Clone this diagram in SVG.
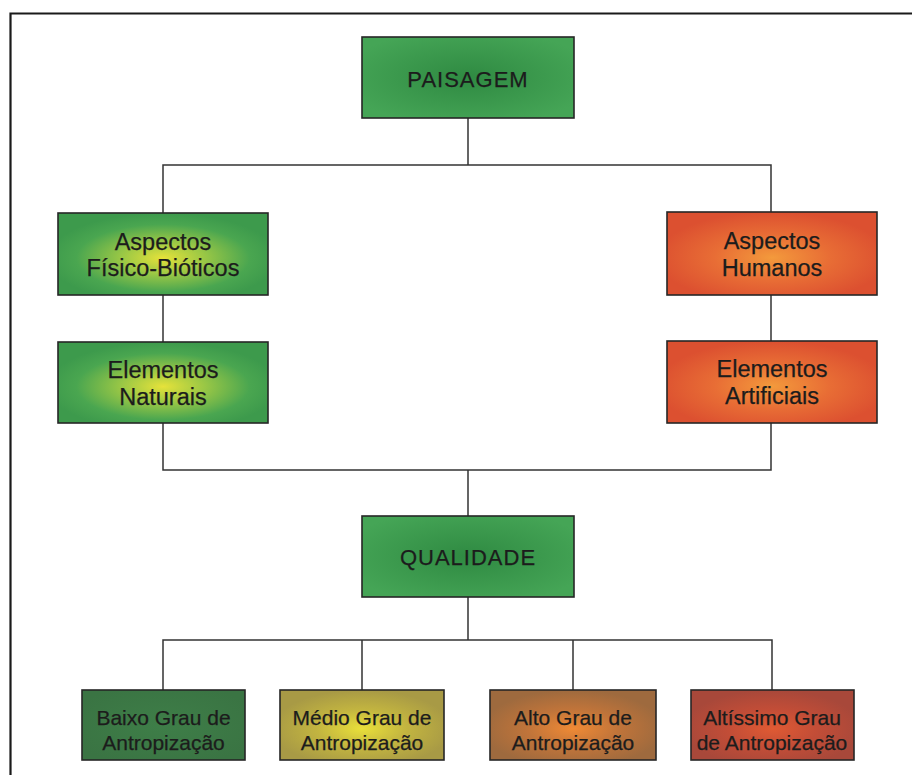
<svg xmlns="http://www.w3.org/2000/svg" width="912" height="775" viewBox="0 0 912 775">
  <style>
    .box { stroke: #262626; stroke-width: 1.6; }
    .lbl { font-family: "Liberation Sans", Arial, sans-serif; font-size: 21px; fill: #1c1c1c; stroke: #1c1c1c; stroke-width: 0.25; text-anchor: middle; }
    .mid { font-size: 23.5px; }
    .big { font-size: 22px; letter-spacing: 1px; }
    .wire { fill: none; stroke: #333; stroke-width: 1.5; }
    .frame { fill: none; stroke: #1a1a1a; stroke-width: 2.2; }
  </style>
  <defs>
    <radialGradient id="gTop" cx="50%" cy="50%" r="60%">
      <stop offset="0" stop-color="#2f8a42"/>
      <stop offset="1" stop-color="#45a556"/>
    </radialGradient>
    <radialGradient id="gNat" cx="50%" cy="55%" r="55%">
      <stop offset="0" stop-color="#e6e23a"/>
      <stop offset="0.35" stop-color="#9cc845"/>
      <stop offset="0.75" stop-color="#4aa650"/>
      <stop offset="1" stop-color="#3d9a4c"/>
    </radialGradient>
    <radialGradient id="gHum" cx="50%" cy="55%" r="55%">
      <stop offset="0" stop-color="#f39a3c"/>
      <stop offset="0.5" stop-color="#e86d35"/>
      <stop offset="1" stop-color="#dc5030"/>
    </radialGradient>
    <radialGradient id="gLow" cx="50%" cy="50%" r="60%">
      <stop offset="0" stop-color="#3e7e48"/>
      <stop offset="1" stop-color="#3a7443"/>
    </radialGradient>
    <radialGradient id="gMid" cx="50%" cy="55%" r="55%">
      <stop offset="0" stop-color="#e9e03a"/>
      <stop offset="0.5" stop-color="#c2b440"/>
      <stop offset="1" stop-color="#a89a45"/>
    </radialGradient>
    <radialGradient id="gHigh" cx="50%" cy="55%" r="55%">
      <stop offset="0" stop-color="#ef8a35"/>
      <stop offset="0.5" stop-color="#c0743a"/>
      <stop offset="1" stop-color="#9e6a3e"/>
    </radialGradient>
    <radialGradient id="gMax" cx="50%" cy="55%" r="55%">
      <stop offset="0" stop-color="#e05a33"/>
      <stop offset="0.5" stop-color="#c24d37"/>
      <stop offset="1" stop-color="#a8483a"/>
    </radialGradient>
  </defs>

  <rect width="912" height="775" fill="#ffffff"/>

  <!-- outer frame -->
  <path class="frame" d="M10.5 775 V13.5 H912"/>

  <!-- connectors -->
  <g id="connectors">
    <path class="wire" d="M468 118 V165 M163 213 V165 H771 V212"/>
    <path class="wire" d="M163 295 V342"/>
    <path class="wire" d="M771 295 V341"/>
    <path class="wire" d="M163 423 V470 H771 V423 M468 470 V516"/>
    <path class="wire" d="M468 597 V640 M163 690 V640 H772 V690 M362 640 V690 M573 640 V690"/>
  </g>

  <g id="paisagem">
    <rect class="box" x="362" y="37" width="212" height="81" fill="url(#gTop)"/>
    <text class="lbl big" x="468" y="87">PAISAGEM</text>
  </g>

  <g id="aspectos-fisico-bioticos">
    <rect class="box" x="58" y="213" width="210" height="82" fill="url(#gNat)"/>
    <text class="lbl mid" x="163" y="250">Aspectos</text>
    <text class="lbl mid" x="163" y="276">Físico-Bióticos</text>
  </g>

  <g id="elementos-naturais">
    <rect class="box" x="58" y="342" width="210" height="81" fill="url(#gNat)"/>
    <text class="lbl mid" x="163" y="378">Elementos</text>
    <text class="lbl mid" x="163" y="405">Naturais</text>
  </g>

  <g id="aspectos-humanos">
    <rect class="box" x="667" y="212" width="210" height="83" fill="url(#gHum)"/>
    <text class="lbl mid" x="772" y="249">Aspectos</text>
    <text class="lbl mid" x="772" y="276">Humanos</text>
  </g>

  <g id="elementos-artificiais">
    <rect class="box" x="667" y="341" width="210" height="82" fill="url(#gHum)"/>
    <text class="lbl mid" x="772" y="377">Elementos</text>
    <text class="lbl mid" x="772" y="404">Artificiais</text>
  </g>

  <g id="qualidade">
    <rect class="box" x="362" y="516" width="212" height="81" fill="url(#gTop)"/>
    <text class="lbl big" x="468" y="565">QUALIDADE</text>
  </g>

  <g id="baixo">
    <rect class="box" x="82" y="690" width="163" height="70" fill="url(#gLow)"/>
    <text class="lbl" x="163.5" y="725">Baixo Grau de</text>
    <text class="lbl" x="163.5" y="750">Antropização</text>
  </g>

  <g id="medio">
    <rect class="box" x="280" y="690" width="164" height="70" fill="url(#gMid)"/>
    <text class="lbl" x="362" y="725">Médio Grau de</text>
    <text class="lbl" x="362" y="750">Antropização</text>
  </g>

  <g id="alto">
    <rect class="box" x="490" y="690" width="166" height="70" fill="url(#gHigh)"/>
    <text class="lbl" x="573" y="725">Alto Grau de</text>
    <text class="lbl" x="573" y="750">Antropização</text>
  </g>

  <g id="altissimo">
    <rect class="box" x="691" y="690" width="163" height="70" fill="url(#gMax)"/>
    <text class="lbl" x="772" y="725">Altíssimo Grau</text>
    <text class="lbl" x="772" y="750">de Antropização</text>
  </g>
</svg>
